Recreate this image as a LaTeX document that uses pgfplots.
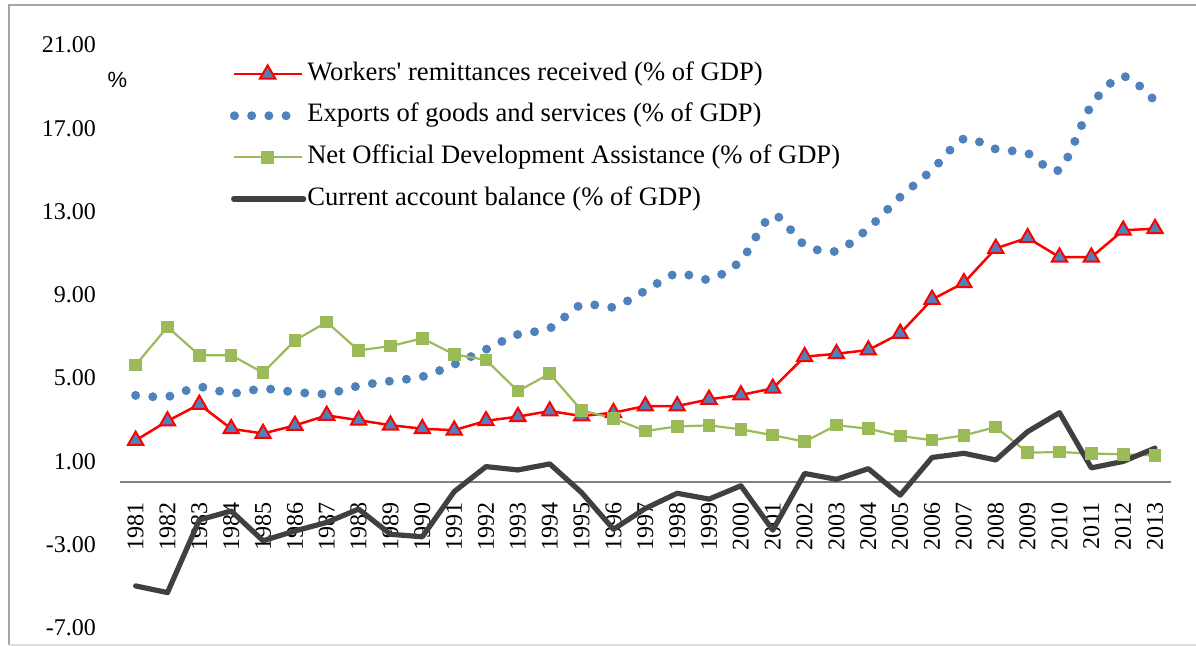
\documentclass[border=0pt]{standalone}
\usepackage{pgfplots}
\pgfplotsset{compat=1.18}
\usepackage{pgfplotstable}
\usepackage{fontspec}
\setmainfont{Liberation Serif}
\newfontfamily\arial{Liberation Sans}
\definecolor{remred}{HTML}{FF0000}
\definecolor{blueF}{HTML}{4F81BD}
\definecolor{greenF}{HTML}{9BBB59}
\definecolor{darkF}{HTML}{404040}
\pgfplotsset{
  markimg/.style={legend image code/.code={\draw[mark repeat=2,mark phase=2,##1] plot coordinates {(0pt,0pt) (17pt,0pt) (34pt,0pt)};}},
  dotimg/.style={legend image code/.code={\draw[##1] (0.4pt,0pt) -- (27pt,0pt);}},
  lineimg/.style={legend image code/.code={\draw[##1] (0pt,0pt) -- (35pt,0pt);}},
}
\pgfplotstableread{
year rem exp oda cab
1981 2.01 4.17 5.63 -4.98
1982 2.94 4.11 7.46 -5.30
1983 3.74 4.57 6.10 -1.81
1984 2.57 4.27 6.10 -1.38
1985 2.34 4.49 5.26 -2.81
1986 2.73 4.33 6.81 -2.34
1987 3.21 4.25 7.69 -1.93
1988 2.98 4.63 6.33 -1.29
1989 2.74 4.86 6.54 -2.50
1990 2.57 5.07 6.91 -2.62
1991 2.50 5.66 6.14 -0.45
1992 2.95 6.38 5.87 0.75
1993 3.15 7.10 4.38 0.59
1994 3.42 7.39 5.21 0.88
1995 3.18 8.53 3.45 -0.50
1996 3.34 8.41 3.07 -2.26
1997 3.66 9.20 2.46 -1.26
1998 3.66 10.03 2.68 -0.53
1999 3.98 9.75 2.73 -0.81
2000 4.19 10.65 2.54 -0.17
2001 4.51 12.82 2.26 -2.30
2002 6.03 11.40 1.95 0.42
2003 6.17 11.10 2.74 0.14
2004 6.35 12.20 2.57 0.65
2005 7.15 13.70 2.22 -0.62
2006 8.78 15.00 2.02 1.19
2007 9.58 16.50 2.25 1.39
2008 11.23 16.00 2.65 1.07
2009 11.74 15.80 1.42 2.43
2010 10.81 15.00 1.45 3.34
2011 10.81 18.10 1.38 0.69
2012 12.10 19.50 1.34 1.00
2013 12.18 18.30 1.29 1.64
}\data
\begin{document}
\begin{tikzpicture}[x=1pt,y=1pt]
\useasboundingbox (0,0) rectangle (598,323);
\draw[gray!70, line width=0.8pt] (4.5,0.5) -- (4.5,320.5) -- (600,320.5);
\draw[gray!25, line width=0.6pt] (4.5,0.5) -- (600,0.5);
\node[font=\arial\fontsize{11}{13}\selectfont] at (58.75,283) {\%};
\begin{axis}[
  at={(59.85pt,9pt)}, anchor=south west,
  scale only axis, width=525.65pt, height=291.5pt,
  xmin=1980.5, xmax=2013.5, ymin=-7, ymax=21,
  axis x line=middle, axis y line=left,
  x axis line style={-, draw=gray, line width=0.8pt},
  y axis line style={draw=none},
  xtick={1981,...,2013},
  ytick={-7,-3,...,21},
  yticklabels={-7.00,-3.00,1.00,5.00,9.00,13.00,17.00,21.00},
  major tick length=0pt,
  tick label style={font=\fontsize{12}{14}\selectfont},
  /pgf/number format/1000 sep={},
  /pgf/number format/assume math mode=true,
  xticklabel style={yshift=-6.5pt, rotate=90, anchor=east},
  yticklabel style={anchor=east, xshift=-8.35pt},
  legend style={at={(0.1045,0.9735)}, anchor=north west, draw=none, fill=none,
    inner sep=0pt, row sep=7.5pt, font=\fontsize{13.3}{15}\selectfont,
    nodes={inner sep=0pt, text height=9.7pt, text depth=3.6pt},
    /tikz/every odd column/.style={column sep=0.5pt}},
  legend cell align=left,
]
\addplot[color=remred, line width=1.25pt, mark=triangle*, mark size=4.4pt,
  mark options={fill=blueF, draw=remred, line width=1pt}, markimg]
  table[x=year,y=rem]{\data};
\addlegendentry{Workers\textquotesingle\ remittances received (\% of GDP)}
\addplot[color=blueF, line width=4.5pt, line cap=round, dash pattern=on 0pt off 8.6pt, smooth, dotimg]
  table[x=year,y=exp]{\data};
\addlegendentry{Exports of goods and services (\% of GDP)}
\addplot[color=greenF, line width=1.1pt, mark=square*, mark size=2.6pt,
  mark options={fill=greenF, draw=greenF, solid}, markimg]
  table[x=year,y=oda]{\data};
\addlegendentry{Net Official Development Assistance (\% of GDP)}
\addplot[color=darkF, line width=2.6pt, line join=round, line cap=round, lineimg]
  table[x=year,y=cab]{\data};
\addlegendentry{Current account balance (\% of GDP)}
\end{axis}
\end{tikzpicture}
\end{document}
